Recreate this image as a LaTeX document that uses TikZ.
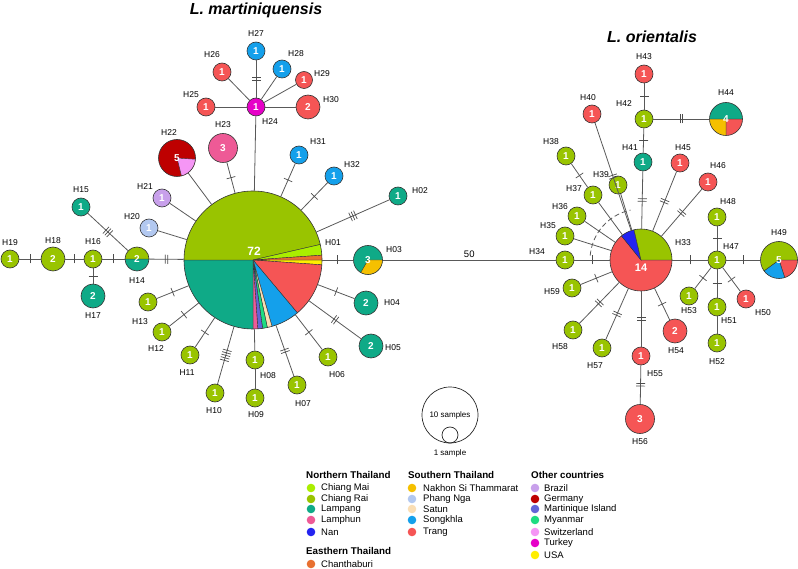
\documentclass[tikz,border=0pt]{standalone}
\usepackage{fontspec}
\setmainfont{Liberation Sans}
\usetikzlibrary{decorations.markings}

\definecolor{chiangmai}{RGB}{170,238,0}
\definecolor{chiangrai}{RGB}{153,196,0}
\definecolor{lampang}{RGB}{15,170,135}
\definecolor{lamphun}{RGB}{238,90,150}
\definecolor{nan}{RGB}{35,35,240}
\definecolor{chanthaburi}{RGB}{232,112,48}
\definecolor{nakhon}{RGB}{245,192,0}
\definecolor{phangnga}{RGB}{178,200,240}
\definecolor{satun}{RGB}{250,222,180}
\definecolor{songkhla}{RGB}{20,160,235}
\definecolor{trang}{RGB}{245,85,85}
\definecolor{brazil}{RGB}{200,160,235}
\definecolor{germany}{RGB}{190,0,0}
\definecolor{martinique}{RGB}{100,100,215}
\definecolor{myanmar}{RGB}{30,220,130}
\definecolor{switzerland}{RGB}{245,150,245}
\definecolor{turkey}{RGB}{230,0,200}
\definecolor{usa}{RGB}{255,238,0}

\tikzset{
  hap/.style={circle, draw=black!80, line width=.6pt, inner sep=0pt,
    minimum size=#1, text=white, font=\fontsize{10}{10}\selectfont\bfseries},
  slices/.style={path picture={\foreach \sa/\sb/\sc in {#1}
    {\filldraw[fill=\sc, draw=black!80, line width=.4pt]
      (path picture bounding box.center) -- ++(\sa:100)
      arc[start angle=\sa, end angle=\sb, radius=100] -- cycle;}}},
  link/.style={draw=black!65, line width=.8pt},
  mut/.style={postaction={decorate}, decoration={markings,
    mark=at position .5 with {\foreach \k in {1,...,#1}
      {\draw[black!70, line width=.7pt] ({(\k-(#1+1)/2)*2.6pt},-4.5pt) -- ++(0pt,9pt);}}}},
  hlab/.style={inner sep=0pt, font=\fontsize{8.5}{9}\selectfont},
  sptitle/.style={inner sep=0pt, font=\fontsize{16}{18}\selectfont\bfseries\itshape},
  legdot/.style={circle, fill=#1, inner sep=0pt, minimum size=8.6},
  legtext/.style={inner sep=0pt, anchor=west, font=\fontsize{9.5}{10}\selectfont},
  leghead/.style={inner sep=0pt, anchor=west, font=\fontsize{9.8}{10}\selectfont\bfseries},
}

\begin{document}
\begin{tikzpicture}[x=1pt, y=-1pt]
  \useasboundingbox (0,0) rectangle (798,569);

  % titles
  \node[sptitle] (tm) at (256,10) {L. martiniquensis};
  \node[sptitle] (to) at (652,37) {L. orientalis};

  % L. martiniquensis
  \node[hap=138, slices={0/4/usa,4/50/trang,50/74/songkhla,74/78/satun,78/82/myanmar,82/86/martinique,86/90/lamphun,90/180/lampang,180/347/chiangrai,347/356/chiangmai,356/360/chanthaburi}] (m) at (253,260) {};
  \node[inner sep=0pt, text=white, font=\fontsize{12}{12}\selectfont\bfseries] (n72) at (254,251) {72};
  \node[hap=18, fill=chiangrai] (h19) at (10,259) {1};
  \node[hap=24, fill=chiangrai] (h18) at (53,259) {2};
  \node[hap=18, fill=chiangrai] (h16) at (93,259) {1};
  \node[hap=24, fill=lampang] (h17) at (93,296) {2};
  \node[hap=24, slices={0/180/lampang,180/360/chiangrai}] (h14) at (137,259) {2};
  \node[hap=18, fill=lampang] (h15) at (81,207) {1};
  \node[hap=18, fill=phangnga] (h20) at (149,228) {1};
  \node[hap=18, fill=brazil] (h21) at (162,198) {1};
  \node[hap=37, fill=germany, slices={4/76/switzerland}] (h22) at (177,158) {5};
  \node[hap=29, fill=lamphun] (h23) at (223,148) {3};
  \node[hap=18, fill=turkey] (h24) at (256,107) {1};
  \node[hap=18, fill=trang] (h25) at (206,107) {1};
  \node[hap=18, fill=trang] (h26) at (222,72) {1};
  \node[hap=18, fill=songkhla] (h27) at (256,51) {1};
  \node[hap=18, fill=songkhla] (h28) at (282,69) {1};
  \node[hap=17, fill=trang] (h29) at (304,80) {1};
  \node[hap=24, fill=trang] (h30) at (308,107) {2};
  \node[hap=18, fill=songkhla] (h31) at (299,155) {1};
  \node[hap=18, fill=songkhla] (h32) at (334,176) {1};
  \node[hap=18, fill=lampang] (h02) at (398,196) {1};
  \node[hap=29, fill=lampang, slices={0/120/nakhon}] (h03) at (368,260) {3};
  \node[hap=24, fill=lampang] (h04) at (366,303) {2};
  \node[hap=24, fill=lampang] (h05) at (371,346) {2};
  \node[hap=18, fill=chiangrai] (h06) at (328,357) {1};
  \node[hap=18, fill=chiangrai] (h07) at (297,385) {1};
  \node[hap=18, fill=chiangrai] (h08) at (255,360) {1};
  \node[hap=18, fill=chiangrai] (h09) at (255,398) {1};
  \node[hap=18, fill=chiangrai] (h10) at (215,393) {1};
  \node[hap=18, fill=chiangrai] (h11) at (190,355) {1};
  \node[hap=18, fill=chiangrai] (h12) at (162,332) {1};
  \node[hap=18, fill=chiangrai] (h13) at (148,302) {1};

  \node[hlab] (t01) at (333,243) {H01};
  \node[hlab] (t02) at (420,191) {H02};
  \node[hlab] (t03) at (394,250) {H03};
  \node[hlab] (t04) at (392,303) {H04};
  \node[hlab] (t05) at (393,348) {H05};
  \node[hlab] (t06) at (337,375) {H06};
  \node[hlab] (t07) at (303,404) {H07};
  \node[hlab] (t08) at (268,376) {H08};
  \node[hlab] (t09) at (256,415) {H09};
  \node[hlab] (t10) at (214,411) {H10};
  \node[hlab] (t11) at (187,373) {H11};
  \node[hlab] (t12) at (156,349) {H12};
  \node[hlab] (t13) at (140,322) {H13};
  \node[hlab] (t14) at (137,281) {H14};
  \node[hlab] (t15) at (81,190) {H15};
  \node[hlab] (t16) at (93,242) {H16};
  \node[hlab] (t17) at (93,316) {H17};
  \node[hlab] (t18) at (53,241) {H18};
  \node[hlab] (t19) at (10,243) {H19};
  \node[hlab] (t20) at (132,217) {H20};
  \node[hlab] (t21) at (145,187) {H21};
  \node[hlab] (t22) at (169,133) {H22};
  \node[hlab] (t23) at (223,125) {H23};
  \node[hlab] (t24) at (270,122) {H24};
  \node[hlab] (t25) at (191,95) {H25};
  \node[hlab] (t26) at (212,55) {H26};
  \node[hlab] (t27) at (256,34) {H27};
  \node[hlab] (t28) at (296,54) {H28};
  \node[hlab] (t29) at (322,74) {H29};
  \node[hlab] (t30) at (331,100) {H30};
  \node[hlab] (t31) at (318,142) {H31};
  \node[hlab] (t32) at (352,165) {H32};

  \draw[link, mut=1] (h19) -- (h18);
  \draw[link, mut=1] (h18) -- (h16);
  \draw[link, mut=1] (h16) -- (h14);
  \draw[link, mut=1] (h16) -- (h17);
  \draw[link, mut=3] (h15) -- (h14);
  \draw[link, mut=2] (h14) -- (m);
  \draw[link] (h20) -- (m);
  \draw[link] (h21) -- (m);
  \draw[link] (h22) -- (m);
  \draw[link, mut=1] (h23) -- (m);
  \draw[link] (h24) -- (m);
  \draw[link] (h24) -- (h25);
  \draw[link] (h24) -- (h26);
  \draw[link, mut=2] (h24) -- (h27);
  \draw[link] (h24) -- (h28);
  \draw[link] (h24) -- (h29);
  \draw[link] (h24) -- (h30);
  \draw[link, mut=1] (h31) -- (m);
  \draw[link, mut=1] (h32) -- (m);
  \draw[link, mut=3] (h02) -- (m);
  \draw[link, mut=1] (h03) -- (m);
  \draw[link, mut=1] (h04) -- (m);
  \draw[link, mut=2] (h05) -- (m);
  \draw[link, mut=1] (h06) -- (m);
  \draw[link, mut=2] (h07) -- (m);
  \draw[link] (h08) -- (m);
  \draw[link] (h08) -- (h09);
  \draw[link, mut=5] (h10) -- (m);
  \draw[link, mut=1] (h11) -- (m);
  \draw[link, mut=1] (h12) -- (m);
  \draw[link, mut=1] (h13) -- (m);

  % L. orientalis
  \node[hap=62, slices={0/231/trang,231/257/nan,257/360/chiangrai}] (h33) at (641,260) {};
  \node[inner sep=0pt, text=white, font=\fontsize{11}{11}\selectfont\bfseries] (n14) at (641,268) {14};
  \node[hap=18, fill=chiangrai] (h34) at (565,260) {1};
  \node[hap=18, fill=chiangrai] (h35) at (565,236) {1};
  \node[hap=18, fill=chiangrai] (h36) at (577,216) {1};
  \node[hap=18, fill=chiangrai] (h37) at (593,195) {1};
  \node[hap=18, fill=chiangrai] (h38) at (566,156) {1};
  \node[hap=18, fill=chiangrai] (h39) at (618,185) {1};
  \node[hap=18, fill=trang] (h40) at (592,114) {1};
  \node[hap=18, fill=lampang] (h41) at (643,162) {1};
  \node[hap=18, fill=chiangrai] (h42) at (644,119) {1};
  \node[hap=18, fill=trang] (h43) at (644,74) {1};
  \node[hap=33, slices={0/90/trang,90/180/nakhon,180/360/lampang}] (h44) at (726,119) {4};
  \node[hap=18, fill=trang] (h45) at (680,163) {1};
  \node[hap=18, fill=trang] (h46) at (708,182) {1};
  \node[hap=18, fill=chiangrai] (h47) at (717,260) {1};
  \node[hap=18, fill=chiangrai] (h48) at (717,217) {1};
  \node[hap=37, slices={0/72/trang,72/144/songkhla,144/360/chiangrai}] (h49) at (779,260) {5};
  \node[hap=18, fill=trang] (h50) at (746,299) {1};
  \node[hap=18, fill=chiangrai] (h51) at (717,307) {1};
  \node[hap=18, fill=chiangrai] (h52) at (717,343) {1};
  \node[hap=18, fill=chiangrai] (h53) at (689,296) {1};
  \node[hap=24, fill=trang] (h54) at (675,331) {2};
  \node[hap=18, fill=trang] (h55) at (641,356) {1};
  \node[hap=29, fill=trang] (h56) at (640,419) {3};
  \node[hap=18, fill=chiangrai] (h57) at (602,348) {1};
  \node[hap=18, fill=chiangrai] (h58) at (573,330) {1};
  \node[hap=18, fill=chiangrai] (h59) at (572,288) {1};

  \node[hlab] (t33) at (683,243) {H33};
  \node[hlab] (t34) at (537,252) {H34};
  \node[hlab] (t35) at (548,226) {H35};
  \node[hlab] (t36) at (560,207) {H36};
  \node[hlab] (t37) at (574,189) {H37};
  \node[hlab] (t38) at (551,142) {H38};
  \node[hlab] (t39) at (601,175) {H39};
  \node[hlab] (t40) at (588,98) {H40};
  \node[hlab] (t41) at (630,148) {H41};
  \node[hlab] (t42) at (624,104) {H42};
  \node[hlab] (t43) at (644,57) {H43};
  \node[hlab] (t44) at (726,93) {H44};
  \node[hlab] (t45) at (683,148) {H45};
  \node[hlab] (t46) at (718,166) {H46};
  \node[hlab] (t47) at (731,247) {H47};
  \node[hlab] (t48) at (728,202) {H48};
  \node[hlab] (t49) at (779,233) {H49};
  \node[hlab] (t50) at (763,313) {H50};
  \node[hlab] (t51) at (729,321) {H51};
  \node[hlab] (t52) at (717,362) {H52};
  \node[hlab] (t53) at (689,311) {H53};
  \node[hlab] (t54) at (676,351) {H54};
  \node[hlab] (t55) at (655,374) {H55};
  \node[hlab] (t56) at (640,442) {H56};
  \node[hlab] (t57) at (595,366) {H57};
  \node[hlab] (t58) at (560,347) {H58};
  \node[hlab] (t59) at (552,292) {H59};

  \draw[link] (h03) -- node[above=2pt, inner sep=0pt, font=\fontsize{9.5}{10}\selectfont] (d50) {50} (h34);
  \draw[link, mut=1] (h34) -- (h33);
  \draw[link] (h35) -- (h33);
  \draw[link] (h36) -- (h33);
  \draw[link] (h37) -- (h33);
  \draw[link, mut=1] (h38) -- (h37);
  \draw[link] (h39) -- (h33);
  \draw[link, mut=2] (h40) -- (h33);
  \draw[link, mut=2] (h41) -- (h33);
  \draw[link, mut=1] (h41) -- (h42);
  \draw[link, mut=1] (h42) -- (h43);
  \draw[link, mut=2] (h42) -- (h44);
  \draw[link, mut=2] (h45) -- (h33);
  \draw[link, mut=2] (h46) -- (h33);
  \draw[link, mut=1] (h33) -- (h47);
  \draw[link, mut=1] (h47) -- (h48);
  \draw[link, mut=1] (h47) -- (h49);
  \draw[link, mut=1] (h47) -- (h50);
  \draw[link, mut=1] (h47) -- (h51);
  \draw[link, mut=1] (h47) -- (h53);
  \draw[link] (h51) -- (h52);
  \draw[link, mut=1] (h54) -- (h33);
  \draw[link, mut=2] (h55) -- (h33);
  \draw[link, mut=2] (h55) -- (h56);
  \draw[link, mut=2] (h57) -- (h33);
  \draw[link, mut=2] (h58) -- (h33);
  \draw[link, mut=1] (h59) -- (h33);
  \draw[link, dash pattern=on 5pt off 3pt] (h33.center) ++(185:51) arc[start angle=185, end angle=258, radius=51];

  % sample size
  \node[circle, draw=black!85, line width=.7pt, minimum size=56, inner sep=0pt,
    font=\fontsize{8}{8}\selectfont] (s10) at (450,415) {10 samples};
  \node[circle, draw=black!85, line width=.7pt, minimum size=16, inner sep=0pt] (s1) at (450,435) {};
  \node[inner sep=0pt, font=\fontsize{8}{8}\selectfont] (s1t) at (450,453) {1 sample};

  % legend
  \node[leghead] (g1) at (306,475) {Northern Thailand};
  \node[legdot=chiangmai] (c1) at (311,488) {};
  \node[legtext] (l1) at (321,488) {Chiang Mai};
  \node[legdot=chiangrai] (c2) at (311,499) {};
  \node[legtext] (l2) at (321,499) {Chiang Rai};
  \node[legdot=lampang] (c3) at (311,509) {};
  \node[legtext] (l3) at (321,509) {Lampang};
  \node[legdot=lamphun] (c4) at (311,520) {};
  \node[legtext] (l4) at (321,520) {Lamphun};
  \node[legdot=nan] (c5) at (311,532) {};
  \node[legtext] (l5) at (321,532) {Nan};
  \node[leghead] (g2) at (306,551) {Easthern Thailand};
  \node[legdot=chanthaburi] (c6) at (311,564) {};
  \node[legtext] (l6) at (321,564) {Chanthaburi};

  \node[leghead] (g3) at (408,475) {Southern Thailand};
  \node[legdot=nakhon] (c7) at (412,488) {};
  \node[legtext] (l7) at (423,488) {Nakhon Si Thammarat};
  \node[legdot=phangnga] (c8) at (412,499) {};
  \node[legtext] (l8) at (423,499) {Phang Nga};
  \node[legdot=satun] (c9) at (412,509) {};
  \node[legtext] (l9) at (423,509) {Satun};
  \node[legdot=songkhla] (c10) at (412,520) {};
  \node[legtext] (l10) at (423,520) {Songkhla};
  \node[legdot=trang] (c11) at (412,532) {};
  \node[legtext] (l11) at (423,532) {Trang};

  \node[leghead] (g4) at (531,475) {Other countries};
  \node[legdot=brazil] (c12) at (535,488) {};
  \node[legtext] (l12) at (544,488) {Brazil};
  \node[legdot=germany] (c13) at (535,499) {};
  \node[legtext] (l13) at (544,499) {Germany};
  \node[legdot=martinique] (c14) at (535,509) {};
  \node[legtext] (l14) at (544,509) {Martinique Island};
  \node[legdot=myanmar] (c15) at (535,520) {};
  \node[legtext] (l15) at (544,520) {Myanmar};
  \node[legdot=switzerland] (c16) at (535,532) {};
  \node[legtext] (l16) at (544,532) {Switzerland};
  \node[legdot=turkey] (c17) at (535,543) {};
  \node[legtext] (l17) at (544,543) {Turkey};
  \node[legdot=usa] (c18) at (535,555) {};
  \node[legtext] (l18) at (544,555) {USA};
\end{tikzpicture}
\end{document}
